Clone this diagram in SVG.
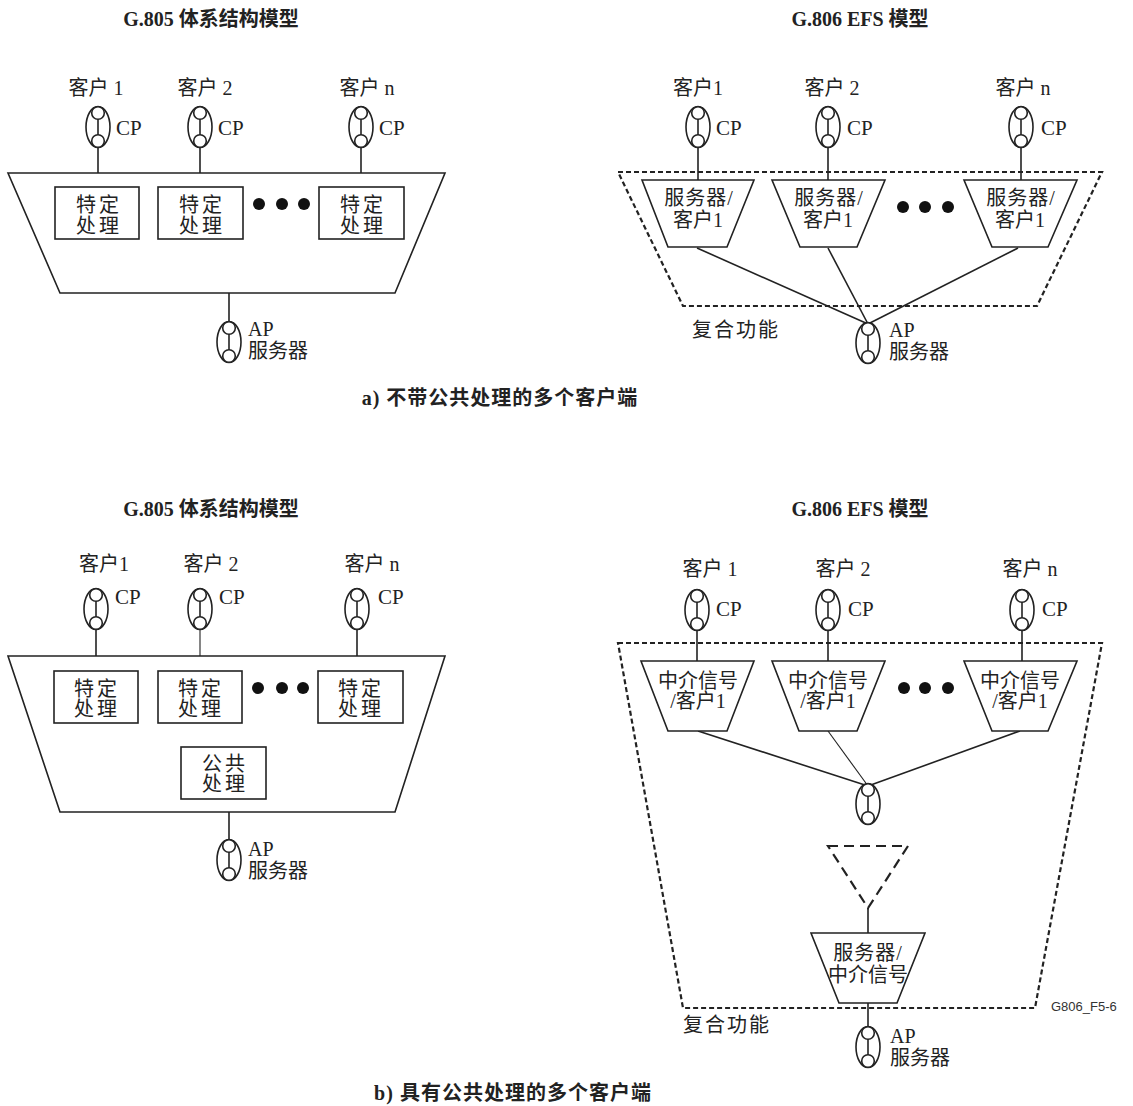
<svg xmlns="http://www.w3.org/2000/svg" xmlns:xlink="http://www.w3.org/1999/xlink" width="1133" height="1106" viewBox="0 0 1133 1106">
<style>
.t{font-family:"Liberation Serif","Noto Sans CJK SC",serif;fill:#222;}
.title{font-size:20px;font-weight:bold;text-anchor:middle;}
.lbl{font-size:20px;}
.cpl{font-size:21px;}
.mid{text-anchor:middle;}
.box{font-size:20px;text-anchor:middle;}
.ls3{letter-spacing:3px;}
.ls1{letter-spacing:1px;}
.ls2{letter-spacing:2px;}
.ln{stroke:#222;stroke-width:1.6;fill:none;}
.shape{stroke:#222;stroke-width:1.6;fill:#fff;}
.dash{stroke:#222;stroke-width:2.2;fill:none;stroke-dasharray:5 3;}
.dash2{stroke:#222;stroke-width:2.2;fill:none;stroke-dasharray:10 6;}
.dot{fill:#111;}
</style>
<defs>
<g id="cp">
<ellipse cx="0" cy="0" rx="12" ry="20.5" fill="#fff" stroke="#222" stroke-width="1.6"/>
<circle cx="0" cy="-14" r="6.3" fill="#fff" stroke="#222" stroke-width="1.6"/>
<circle cx="0" cy="14" r="6.3" fill="#fff" stroke="#222" stroke-width="1.6"/>
<line x1="0" y1="-7.7" x2="0" y2="7.7" stroke="#222" stroke-width="1.6"/>
</g>
</defs>
<rect width="1133" height="1106" fill="#fff"/>

<!-- Titles -->
<g id="titles">
<text class="t title" x="211" y="26">G.805 体系结构模型</text>
<text class="t title" x="860" y="26">G.806 EFS 模型</text>
<text class="t title ls1" x="500" y="405">a) 不带公共处理的多个客户端</text>
<text class="t title" x="211" y="516">G.805 体系结构模型</text>
<text class="t title" x="860" y="516">G.806 EFS 模型</text>
<text class="t title ls1" x="513" y="1100">b) 具有公共处理的多个客户端</text>
</g>

<!-- Connectors -->
<g id="connectors">
<!-- a left -->
<line class="ln" x1="98" y1="148" x2="98" y2="187"/>
<line class="ln" x1="200" y1="148" x2="200" y2="187"/>
<line class="ln" x1="361" y1="148" x2="361" y2="187"/>
<line class="ln" x1="229" y1="293" x2="229" y2="322"/>
<!-- a right -->
<line class="ln" x1="698" y1="148" x2="698" y2="180"/>
<line class="ln" x1="828" y1="148" x2="828" y2="180"/>
<line class="ln" x1="1021" y1="148" x2="1021" y2="180"/>
<line class="ln" x1="697" y1="248" x2="868" y2="324"/>
<line class="ln" x1="828" y1="248" x2="868" y2="324"/>
<line class="ln" x1="1018" y1="248" x2="868" y2="324"/>
<!-- b left -->
<line class="ln" x1="96" y1="630" x2="96" y2="671"/>
<line class="ln" x1="200" y1="630" x2="200" y2="671" style="stroke-width:1.1"/>
<line class="ln" x1="357" y1="630" x2="357" y2="671"/>
<line class="ln" x1="229" y1="812" x2="229" y2="840"/>
<!-- b right -->
<line class="ln" x1="697" y1="631" x2="697" y2="661"/>
<line class="ln" x1="828" y1="631" x2="828" y2="661"/>
<line class="ln" x1="1022" y1="631" x2="1022" y2="661"/>
<line class="ln" x1="698" y1="731" x2="868" y2="786"/>
<line class="ln" x1="828" y1="731" x2="868" y2="786" style="stroke-width:1.1"/>
<line class="ln" x1="1020" y1="731" x2="868" y2="786"/>
<line class="ln" x1="868" y1="908" x2="868" y2="933"/>
<line class="ln" x1="868" y1="1003" x2="868" y2="1027"/>
</g>

<!-- ===== a) left: G.805 ===== -->
<g id="a-left-func">
<polygon class="shape" points="8,173 445,173 395,293 60,293"/>
</g>
<g id="a-left-cp1"><use xlink:href="#cp" x="98" y="127"/><text class="t cpl" x="116" y="135">CP</text><text class="t lbl mid" x="96" y="95">客户 1</text></g>
<g id="a-left-cp2"><use xlink:href="#cp" x="200" y="127"/><text class="t cpl" x="218" y="135">CP</text><text class="t lbl mid" x="205" y="95">客户 2</text></g>
<g id="a-left-cpn"><use xlink:href="#cp" x="361" y="127"/><text class="t cpl" x="379" y="135">CP</text><text class="t lbl mid" x="367" y="95">客户 n</text></g>
<g id="a-left-box1"><rect class="shape" x="55" y="187" width="84" height="52"/><text class="t box ls3" x="99" y="212">特定</text><text class="t box ls3" x="99" y="233">处理</text></g>
<g id="a-left-box2"><rect class="shape" x="158" y="187" width="85" height="52"/><text class="t box ls3" x="202" y="212">特定</text><text class="t box ls3" x="202" y="233">处理</text></g>
<g id="a-left-box3"><rect class="shape" x="319" y="187" width="85" height="52"/><text class="t box ls3" x="363" y="212">特定</text><text class="t box ls3" x="363" y="233">处理</text></g>
<g id="a-left-dots"><circle class="dot" cx="259" cy="204" r="6"/><circle class="dot" cx="282" cy="204" r="6"/><circle class="dot" cx="304" cy="204" r="6"/></g>
<g id="a-left-ap"><use xlink:href="#cp" x="229" y="342"/><text class="t lbl" x="248" y="336">AP</text><text class="t lbl" x="248" y="358">服务器</text></g>

<!-- ===== a) right: G.806 ===== -->
<g id="a-right-composite">
<polygon class="dash" points="618,172 1102,172 1037,306 683,306"/>
<text class="t lbl ls2" x="692" y="337">复合功能</text>
</g>
<g id="a-right-cp1"><use xlink:href="#cp" x="698" y="127"/><text class="t cpl" x="716" y="135">CP</text><text class="t lbl mid" x="698" y="95">客户1</text></g>
<g id="a-right-cp2"><use xlink:href="#cp" x="828" y="127"/><text class="t cpl" x="847" y="135">CP</text><text class="t lbl mid" x="832" y="95">客户 2</text></g>
<g id="a-right-cpn"><use xlink:href="#cp" x="1021" y="127"/><text class="t cpl" x="1041" y="135">CP</text><text class="t lbl mid" x="1023" y="95">客户 n</text></g>
<g id="a-right-t1"><polygon class="shape" points="642,180 754,180 727,247 668,247"/><text class="t box ls1" x="699" y="205">服务器/</text><text class="t box" x="698" y="227">客户1</text></g>
<g id="a-right-t2"><polygon class="shape" points="772,180 885,180 857,247 800,247"/><text class="t box ls1" x="829" y="205">服务器/</text><text class="t box" x="828" y="227">客户1</text></g>
<g id="a-right-t3"><polygon class="shape" points="964,180 1077,180 1048,247 992,247"/><text class="t box ls1" x="1021" y="205">服务器/</text><text class="t box" x="1020" y="227">客户1</text></g>
<g id="a-right-dots"><circle class="dot" cx="903" cy="207" r="6"/><circle class="dot" cx="925" cy="207" r="6"/><circle class="dot" cx="948" cy="207" r="6"/></g>
<g id="a-right-ap"><use xlink:href="#cp" x="868" y="343"/><text class="t lbl" x="889" y="337">AP</text><text class="t lbl" x="889" y="359">服务器</text></g>

<!-- ===== b) left: G.805 ===== -->
<g id="b-left-func">
<polygon class="shape" points="8,656 445,656 395,812 60,812"/>
</g>
<g id="b-left-cp1"><use xlink:href="#cp" x="96" y="609"/><text class="t cpl" x="115" y="604">CP</text><text class="t lbl mid" x="104" y="571">客户1</text></g>
<g id="b-left-cp2"><use xlink:href="#cp" x="200" y="609"/><text class="t cpl" x="219" y="604">CP</text><text class="t lbl mid" x="211" y="571">客户 2</text></g>
<g id="b-left-cpn"><use xlink:href="#cp" x="357" y="609"/><text class="t cpl" x="378" y="604">CP</text><text class="t lbl mid" x="372" y="571">客户 n</text></g>
<g id="b-left-box1"><rect class="shape" x="54" y="671" width="84" height="52"/><text class="t box ls3" x="97" y="696">特定</text><text class="t box ls3" x="97" y="716">处理</text></g>
<g id="b-left-box2"><rect class="shape" x="158" y="671" width="84" height="52"/><text class="t box ls3" x="201" y="696">特定</text><text class="t box ls3" x="201" y="716">处理</text></g>
<g id="b-left-box3"><rect class="shape" x="318" y="671" width="85" height="52"/><text class="t box ls3" x="361" y="696">特定</text><text class="t box ls3" x="361" y="716">处理</text></g>
<g id="b-left-dots"><circle class="dot" cx="258" cy="688" r="6"/><circle class="dot" cx="282" cy="688" r="6"/><circle class="dot" cx="303" cy="688" r="6"/></g>
<g id="b-left-common"><rect class="shape" x="181" y="747" width="85" height="52"/><text class="t box ls3" x="225" y="771">公共</text><text class="t box ls3" x="225" y="791">处理</text></g>
<g id="b-left-ap"><use xlink:href="#cp" x="229" y="860"/><text class="t lbl" x="248" y="856">AP</text><text class="t lbl" x="248" y="878">服务器</text></g>

<!-- ===== b) right: G.806 ===== -->
<g id="b-right-composite">
<polygon class="dash" points="618,643 1102,643 1035,1008 683,1008"/>
<text class="t lbl ls2" x="683" y="1032">复合功能</text>
<text x="1051" y="1011" font-family="Liberation Sans,Arial,sans-serif" font-size="13" fill="#333">G806_F5-6</text>
</g>
<g id="b-right-cp1"><use xlink:href="#cp" x="697" y="610"/><text class="t cpl" x="716" y="616">CP</text><text class="t lbl mid" x="710" y="576">客户 1</text></g>
<g id="b-right-cp2"><use xlink:href="#cp" x="828" y="610"/><text class="t cpl" x="848" y="616">CP</text><text class="t lbl mid" x="843" y="576">客户 2</text></g>
<g id="b-right-cpn"><use xlink:href="#cp" x="1022" y="610"/><text class="t cpl" x="1042" y="616">CP</text><text class="t lbl mid" x="1030" y="576">客户 n</text></g>
<g id="b-right-t1"><polygon class="shape" points="641,661 754,661 727,731 668,731"/><text class="t box" x="698" y="688">中介信号</text><text class="t box" x="698" y="708">/客户1</text></g>
<g id="b-right-t2"><polygon class="shape" points="772,661 885,661 857,731 799,731"/><text class="t box" x="828" y="688">中介信号</text><text class="t box" x="828" y="708">/客户1</text></g>
<g id="b-right-t3"><polygon class="shape" points="964,661 1077,661 1048,731 992,731"/><text class="t box" x="1020" y="688">中介信号</text><text class="t box" x="1020" y="708">/客户1</text></g>
<g id="b-right-dots"><circle class="dot" cx="904" cy="688" r="6"/><circle class="dot" cx="925" cy="688" r="6"/><circle class="dot" cx="948" cy="688" r="6"/></g>
<g id="b-right-mid"><use xlink:href="#cp" x="868" y="804"/></g>
<g id="b-right-tri"><polygon class="dash2" points="828,846 908,846 868,908"/></g>
<g id="b-right-srv"><polygon class="shape" points="811,933 925,933 897,1003 839,1003"/><text class="t box ls1" x="868" y="960">服务器/</text><text class="t box" x="868" y="982">中介信号</text></g>
<g id="b-right-ap"><use xlink:href="#cp" x="868" y="1047"/><text class="t lbl" x="890" y="1043">AP</text><text class="t lbl" x="890" y="1065">服务器</text></g>
</svg>
